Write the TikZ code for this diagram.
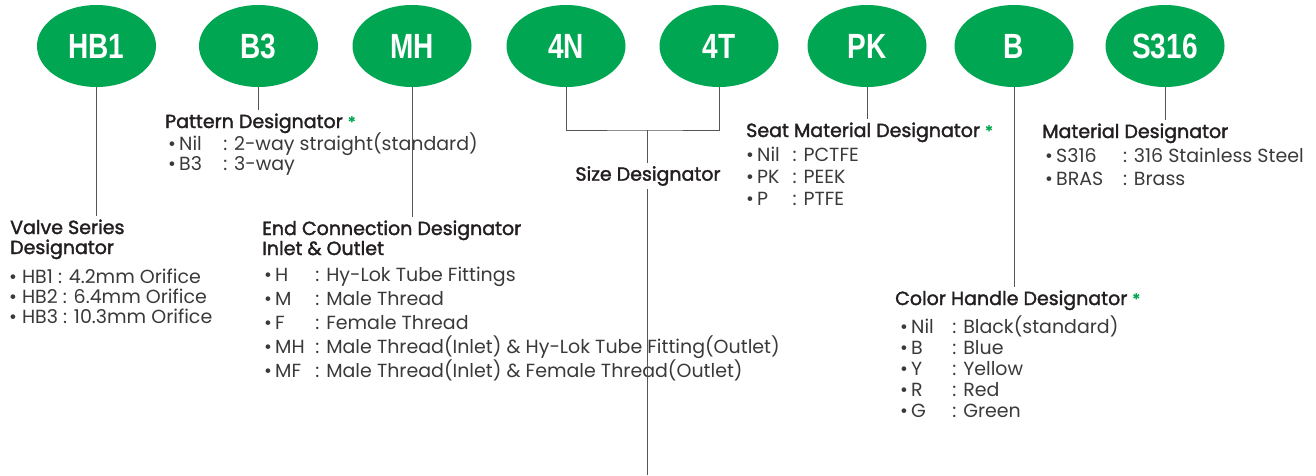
\documentclass[tikz,border=0pt]{standalone}
\usepackage{fontspec}
\setmainfont{Poppins}
\newfontfamily\headfont[FakeBold=1.8]{Poppins}
\newfontfamily\ovalfont[FakeStretch=0.8]{Liberation Sans}
\usetikzlibrary{shapes.geometric}
\definecolor{hygreen}{HTML}{00A651}
\definecolor{textgray}{HTML}{231F20}
\definecolor{itemgray}{HTML}{3A3A3A}
\definecolor{linegray}{HTML}{555555}
\tikzset{
  code/.style={ellipse, fill=hygreen, text=white, minimum width=119pt, minimum height=82pt,
    inner sep=0pt, font=\ovalfont\bfseries\fontsize{35}{35}\selectfont},
  heading/.style={anchor=base west, inner sep=0pt, align=left, text=textgray,
    font=\headfont\fontsize{19}{20}\selectfont},
  items/.style={anchor=base west, inner sep=0pt, align=left, text=itemgray,
    font=\fontsize{19}{#1}\selectfont},
  lead/.style={draw=linegray, line width=1pt, shorten >=3pt}
}
\newcommand{\opt}[3][3em]{\makebox[#1][l]{•\,#2}: #3}
\newcommand{\req}{\textcolor{hygreen}{\headfont\fontsize{16}{16}\selectfont *}}
\begin{document}
\begin{tikzpicture}[x=1pt,y=-1pt]
\useasboundingbox (0,0) rectangle (1316,475);
% code ovals
\node[code] (hb1) at (96.5,46) {HB1};
\node[code] (b3) at (258.5,46) {B3};
\node[code] (mh) at (412,46) {MH};
\node[code] (n4) at (566,46) {4N};
\node[code] (t4) at (719,46) {4T};
\node[code] (pk) at (867,46) {PK};
\node[code] (bh) at (1014,46) {B};
\node[code] (s316) at (1165,46) {S316};
% designator texts (anchored at the base of the last line)
\node[heading] (valve) at (10,254) {Valve Series\\Designator};
\node[items=20] (valveitems) at (9,323) {• HB1 : 4.2mm Orifice\\• HB2 : 6.4mm Orifice\\• HB3 : 10.3mm Orifice};
\node[heading] (pattern) at (165,128) {Pattern Designator \req};
\node[items=20] (patternitems) at (168,170) {\opt[2.9em]{Nil}{2-way straight(standard)}\\\opt[2.9em]{B3}{3-way}};
\node[heading] (endconn) at (262,255) {End Connection Designator\\Inlet \& Outlet};
\node[items=24] (enditems) at (264,377) {\opt[2.7em]{H}{Hy-Lok Tube Fittings}\\\opt[2.7em]{M}{Male Thread}\\\opt[2.7em]{F}{Female Thread}\\\opt[2.7em]{MH}{Male Thread(Inlet) \& Hy-Lok Tube Fitting(Outlet)}\\\opt[2.7em]{MF}{Male Thread(Inlet) \& Female Thread(Outlet)}};
\node[heading, anchor=center] (size) at (648,176) {Size Designator};
\node[heading] (seat) at (746,137) {Seat Material Designator \req};
\node[items=22] (seatitems) at (746,205) {\opt[2.45em]{Nil}{PCTFE}\\\opt[2.45em]{PK}{PEEK}\\\opt[2.45em]{P}{PTFE}};
\node[heading] (material) at (1042,138) {Material Designator};
\node[items=23] (matitems) at (1045,185) {\opt[4.1em]{S316}{316 Stainless Steel}\\\opt[4.1em]{BRAS}{Brass}};
\node[heading] (color) at (895,305) {Color Handle Designator \req};
\node[items=21] (coloritems) at (900,417) {\opt[2.75em]{Nil}{Black(standard)}\\\opt[2.75em]{B}{Blue}\\\opt[2.75em]{Y}{Yellow}\\\opt[2.75em]{R}{Red}\\\opt[2.75em]{G}{Green}};
% leader lines
\coordinate (br) at (647,130);
\coordinate (sizeend) at (647,475);
\draw[lead] (hb1.south) -- (hb1.south |- valve.north);
\draw[lead] (b3.south) -- (b3.south |- pattern.north);
\draw[lead] (mh.south) -- (mh.south |- endconn.north);
\draw[lead, shorten >=0pt] (n4.south) |- (br) -| (t4.south);
\draw[lead] (br) -- (br |- size.north);
\draw[lead, shorten >=0pt] (br |- size.south) ++(0,3) -- (sizeend);
\draw[lead] (pk.south) -- (pk.south |- seat.north);
\draw[lead] (bh.south) -- (bh.south |- color.north);
\draw[lead] (s316.south) -- (s316.south |- material.north);
\end{tikzpicture}
\end{document}
